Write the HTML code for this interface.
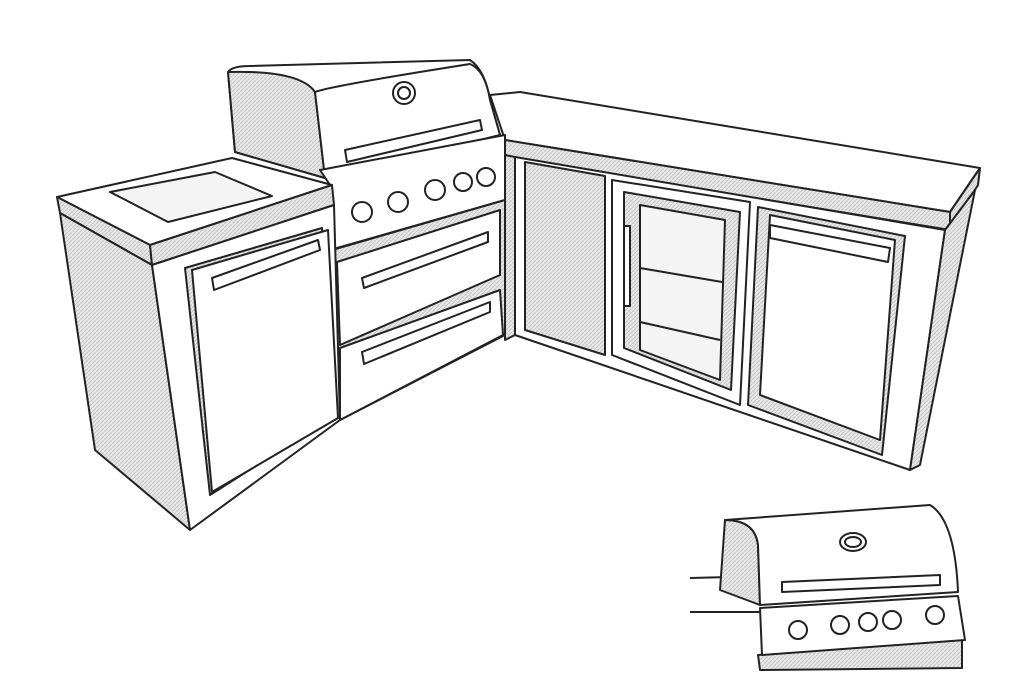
<!DOCTYPE html>
<html><head><meta charset="utf-8"><style>html,body{margin:0;padding:0;background:#fff}svg{display:block}</style></head>
<body>
<svg width="1024" height="700" viewBox="0 0 1024 700" xmlns="http://www.w3.org/2000/svg">
<defs>
<pattern id="h" width="4" height="4" patternUnits="userSpaceOnUse"><rect width="4" height="4" fill="#e6e6e6"/><path d="M0 4L4 0" stroke="#c8c8c8" stroke-width="1"/></pattern>
</defs>
<g stroke="#222" stroke-width="2" stroke-linejoin="round" fill="#fff">
<!-- right counter run -->
<polygon points="490,95 520,92 980,168 950,212 505,140"/>
<polygon points="505,140 950,212 950,230 505,157" fill="url(#h)"/>
<polygon points="950,212 980,168 978,185 950,230" fill="url(#h)"/>
<polygon points="515,157 945,230 910,470 515,335"/>
<polygon points="945,230 975,190 920,465 910,470" fill="url(#h)"/>
<polygon points="515,157 505,155 505,340 515,335" fill="url(#h)"/>
<polygon points="525,162 605,176 605,355 525,330" fill="url(#h)"/>
<polygon points="612,180 750,202 740,405 612,355"/>
<polygon points="624,192 740,212 731,390 624,348" fill="url(#h)"/>
<polygon points="640,205 725,220 720,380 640,350" fill="#f4f4f4"/>
<line x1="640" y1="268" x2="722" y2="282"/><line x1="640" y1="322" x2="720" y2="340"/>
<rect x="624" y="226" width="6" height="80" fill="#fff"/>
<polygon points="758,207 905,236 882,455 748,405" fill="url(#h)"/>
<polygon points="770,215 895,240 880,440 760,395"/>
<polygon points="770,225 890,248 888,262 770,238"/>
<!-- grill hood -->
<path d="M228,72 Q232,66 250,66 L470,60 Q485,70 490,100 L500,135 L325,178 L235,152 Z"/>
<path d="M228,72 Q300,70 315,92 L325,178 L235,152 Z" fill="url(#h)"/>
<path d="M315,92 Q330,86 470,64 Q485,70 490,100 L500,135 L325,178 Z"/>
<circle cx="404" cy="93" r="11"/><circle cx="404" cy="93" r="6"/>
<polygon points="345,150 480,120 482,130 347,162"/>
<!-- grill body -->
<polygon points="320,170 505,135 505,200 330,250 330,185"/>
<g fill="#fff"><circle cx="362" cy="212" r="10"/><circle cx="398" cy="202" r="10"/><circle cx="435" cy="190" r="10"/><circle cx="463" cy="182" r="9"/><circle cx="486" cy="177" r="9"/></g>
<polygon points="332,250 505,200 505,335 340,420" fill="url(#h)"/>
<polygon points="337,262 500,210 500,275 340,345"/>
<polygon points="340,348 500,290 503,335 340,420"/>
<polygon points="362,278 488,232 488,242 364,288"/><polygon points="362,352 490,302 490,312 364,364"/>
<!-- left counter -->
<polygon points="57,197 232,158 332,185 150,245"/>
<polygon points="110,192 215,172 272,196 168,222" fill="#f4f4f4"/>
<polygon points="57,197 150,245 152,265 60,213" fill="url(#h)"/>
<polygon points="150,245 332,185 334,205 152,265" fill="url(#h)"/>
<polygon points="60,213 152,265 190,530 95,450" fill="url(#h)"/>
<polygon points="152,265 334,205 340,420 190,530"/>
<polygon points="185,268 322,228 336,415 210,495" fill="url(#h)"/>
<polygon points="192,270 328,230 338,418 212,492"/>
<polygon points="212,278 318,240 320,250 214,290"/>
<!-- inset grill -->
<line x1="690" y1="578" x2="730" y2="577"/><line x1="690" y1="612" x2="760" y2="612"/>
<polygon points="758,655 962,640 962,668 760,670" fill="url(#h)"/>
<path d="M725,520 Q755,520 758,545 L760,605 L720,590 Z" fill="url(#h)"/>
<path d="M725,520 L930,505 Q955,520 958,592 L760,605 L758,545 Q755,520 725,520 Z"/>
<ellipse cx="853" cy="542" rx="13" ry="9"/><ellipse cx="853" cy="542" rx="8" ry="5"/>
<polygon points="782,582 940,575 940,585 782,592"/>
<polygon points="760,608 958,596 965,640 762,655" fill="#fff"/>
<g fill="#fff"><circle cx="798" cy="630" r="9"/><circle cx="840" cy="625" r="9"/><circle cx="868" cy="622" r="9"/><circle cx="892" cy="620" r="9"/><circle cx="935" cy="615" r="9"/></g>
</g>
</svg>
</body></html>
